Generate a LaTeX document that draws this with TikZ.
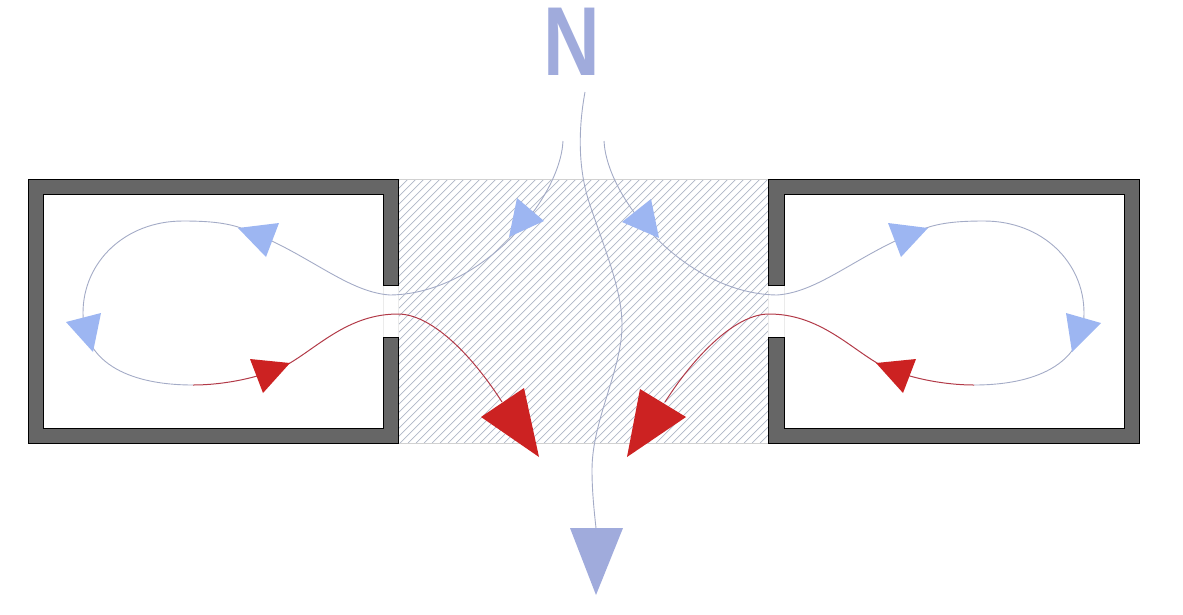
\documentclass[tikz,border=0pt]{standalone}
\usepackage{fontspec}
\setmainfont{Liberation Sans}
\definecolor{wallgray}{HTML}{666666}
\definecolor{hatchgray}{HTML}{AEB6C6}
\definecolor{coolblue}{HTML}{9DB6F2}
\definecolor{coolline}{HTML}{A3ABC6}
\definecolor{northblue}{HTML}{A0ABDC}
\definecolor{warmred}{HTML}{CC2222}
\definecolor{warmline}{HTML}{B23A48}
\tikzset{
    wall/.style = {draw=black, fill=wallgray, line width=0.8pt},
    hatch-line/.style = {draw=hatchgray, line width=0.7pt},
    court-edge/.style = {draw=black!18, line width=0.9pt},
    gap-edge/.style = {draw=black!8, line width=0.7pt},
    cool-flow/.style = {draw=coolline, line width=0.9pt},
    warm-flow/.style = {draw=warmline, line width=1pt},
    cool-head/.style = {fill=coolblue},
    warm-head/.style = {fill=warmred},
    north-head/.style = {fill=northblue},
}

\begin{document}
\begin{tikzpicture}[x=1pt, y=-1pt]
\useasboundingbox (0,0) rectangle (1183,614);

% hatched court
\begin{scope}
\clip (398,179) rectangle (768,443);
\foreach \hx in {400,408,...,1040}
    \draw[hatch-line] (\hx,179) -- (\hx-264,443);
\end{scope}
\draw[court-edge] (398,179) -- (768,179);
\draw[court-edge] (398,443) -- (768,443);
\draw[gap-edge] (383,285) -- (383,337);
\draw[gap-edge] (398,285) -- (398,337);
\draw[gap-edge] (768,285) -- (768,337);
\draw[gap-edge] (784,285) -- (784,337);

% rooms
\draw[wall] (398,179) -- (28,179) -- (28,443) -- (398,443) -- (398,337) -- (383,337) -- (383,428)
    -- (43,428) -- (43,194) -- (383,194) -- (383,285) -- (398,285) -- cycle;
\draw[wall] (768,179) -- (1139,179) -- (1139,443) -- (768,443) -- (768,337) -- (784,337) -- (784,428)
    -- (1124,428) -- (1124,194) -- (784,194) -- (784,285) -- (768,285) -- cycle;

% air paths
\draw[cool-flow] (563,141) .. controls (560,200) and (480,294) .. (390,295)
    .. controls (345,292) and (305,250) .. (238,227)
    .. controls (222,222) and (203,221) .. (183,221)
    .. controls (125,221) and (83,262) .. (83,313)
    .. controls (83,360) and (125,385) .. (193,385);
\draw[warm-flow] (193,385) .. controls (225,385) and (265,377) .. (290,363)
    .. controls (320,345) and (350,314) .. (398,314)
    .. controls (430,314) and (470,352) .. (502,402);
\draw[cool-flow] (604,141) .. controls (607,200) and (687,294) .. (777,295)
    .. controls (822,292) and (862,250) .. (929,227)
    .. controls (945,222) and (964,221) .. (984,221)
    .. controls (1042,221) and (1084,262) .. (1084,313)
    .. controls (1084,360) and (1042,385) .. (974,385);
\draw[warm-flow] (974,385) .. controls (942,385) and (902,377) .. (877,363)
    .. controls (847,345) and (817,314) .. (769,314)
    .. controls (737,314) and (697,352) .. (665,402);
\draw[cool-flow] (585,92) .. controls (578,130) and (578,170) .. (590,205)
    .. controls (605,250) and (622,290) .. (622,325)
    .. controls (622,370) and (592,420) .. (592,470)
    .. controls (592,490) and (594,510) .. (596,528);

% arrow heads
\fill[cool-head] (517,198) -- (544,221) -- (509,237) -- cycle;
\fill[cool-head] (238,228) -- (279,223) -- (266,257) -- cycle;
\fill[cool-head] (66,322) -- (101,313) -- (93,352) -- cycle;
\fill[warm-head] (250,359) -- (290,363) -- (263,393) -- cycle;
\fill[warm-head] (524,388) -- (539,457) -- (481,417) -- cycle;
\fill[cool-head] (651,199) -- (622,222) -- (659,238) -- cycle;
\fill[cool-head] (888,223) -- (928,228) -- (901,257) -- cycle;
\fill[cool-head] (1066,313) -- (1101,323) -- (1072,352) -- cycle;
\fill[warm-head] (876,363) -- (916,359) -- (903,393) -- cycle;
\fill[warm-head] (640,389) -- (686,417) -- (627,457) -- cycle;
\fill[north-head] (570,528) -- (623,528) -- (596,595) -- cycle;

\node[text=northblue, font=\fontsize{98}{98}\selectfont\bfseries, inner sep=0pt, xscale=0.8] (north) at (572,42) {N};
\end{tikzpicture}
\end{document}
